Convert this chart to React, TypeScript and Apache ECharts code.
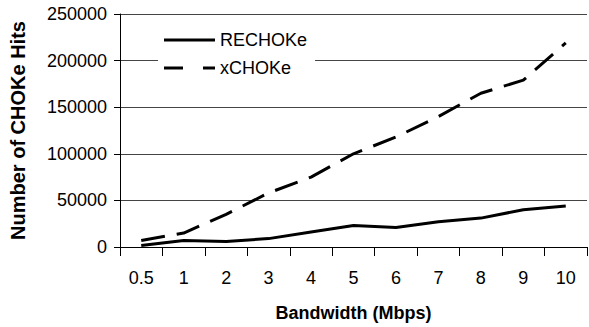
import React, { useEffect, useRef } from "react";
import * as echarts from "echarts";

const categories = ["0.5", "1", "2", "3", "4", "5", "6", "7", "8", "9", "10"];
const rechokeValues = [1500, 7000, 6000, 9000, 16000, 23000, 21000, 27000, 31000, 40000, 44000];
const xchokeValues = [7000, 15000, 35000, 58000, 75000, 100000, 118000, 140000, 165000, 179000, 219000];
const yMin = 0;
const yMax = 250000;
const yInterval = 50000;

const FONT = "Liberation Sans, Arial, sans-serif";

export default function App() {
  const ref = useRef<HTMLDivElement>(null);
  useEffect(() => {
    if (!ref.current) return;
    const chart = echarts.init(ref.current, undefined, { renderer: "svg" });
    chart.setOption({
      animation: false,
      backgroundColor: "#fff",
      grid: { left: 120, right: 2, top: 14, bottom: 80, containLabel: false },
      legend: {
        left: 158,
        top: 27,
        orient: "vertical",
        backgroundColor: "#fff",
        padding: [4, 8, 8, 6],
        itemWidth: 51,
        itemHeight: 3,
        itemGap: 10,
        textStyle: { fontFamily: FONT, fontSize: 18, color: "#000" },
        data: [
          { name: "RECHOKe", icon: "path://M0,0H51V3H0Z" },
          { name: "xCHOKe", icon: "path://M0,0H19V3H0ZM39,0H51V3H39Z" },
        ],
      },
      xAxis: {
        type: "category",
        data: categories,
        boundaryGap: true,
        name: "Bandwidth (Mbps)",
        nameLocation: "middle",
        nameGap: 57,
        nameTextStyle: { fontFamily: FONT, fontSize: 18, fontWeight: "bold", color: "#000" },
        axisLine: { lineStyle: { color: "#000", width: 1 } },
        axisTick: { show: true, length: 9, inside: false, lineStyle: { color: "#000" }, alignWithLabel: false },
        axisLabel: { fontFamily: FONT, fontSize: 18, color: "#000", margin: 22 },
        splitLine: { show: false },
      },
      yAxis: {
        type: "value",
        min: yMin,
        max: yMax,
        interval: yInterval,
        name: "Number of CHOKe Hits",
        nameLocation: "middle",
        nameGap: 92,
        nameTextStyle: { fontFamily: FONT, fontSize: 20, fontWeight: "bold", color: "#000" },
        axisLine: { show: true, lineStyle: { color: "#000", width: 1 } },
        axisTick: { show: true, length: 6, lineStyle: { color: "#000" } },
        axisLabel: {
          fontFamily: FONT,
          fontSize: 18,
          color: "#000",
          margin: 13,
          formatter: (v: number) => String(v),
        },
        splitLine: { show: true, lineStyle: { color: "#444", width: 1 } },
      },
      series: [
        {
          name: "RECHOKe",
          type: "line",
          data: rechokeValues,
          symbol: "none",
          lineStyle: { color: "#000", width: 3, type: "solid" },
          itemStyle: { color: "#000" },
        },
        {
          name: "xCHOKe",
          type: "line",
          data: xchokeValues,
          symbol: "none",
          lineStyle: { color: "#000", width: 3, type: [24, 12] },
          itemStyle: { color: "#000" },
        },
      ],
    });
    return () => chart.dispose();
  }, []);
  return <div ref={ref} style={{ width: 589, height: 327, position: "absolute", left: 0, top: 0 }} />;
}
